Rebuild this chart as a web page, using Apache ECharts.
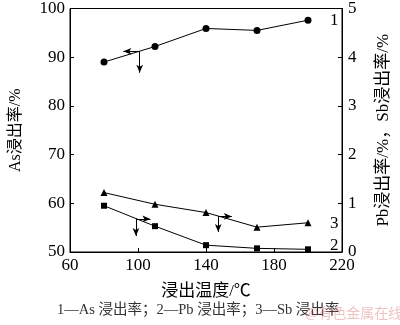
<!DOCTYPE html>
<html>
<head>
<meta charset="utf-8">
<script src="https://cdn.jsdelivr.net/npm/echarts@6/dist/echarts.min.js"></script>
<style>
  html, body { margin: 0; padding: 0; background: #fff; }
  #chart { width: 400px; height: 325px; }
</style>
</head>
<body>
<div id="chart"></div>
<script>
// Leaching temperature (°C)
const temperatures = [80, 110, 140, 170, 200];
// Leaching rates (%)
const asRate = [89.0, 92.2, 95.9, 95.5, 97.6];
const pbRate = [0.95, 0.53, 0.14, 0.075, 0.055];
const sbRate = [1.22, 0.98, 0.81, 0.51, 0.60];
const seriesNames = ['1', '2', '3'];

// Annotation arrows: [corner, horizontal tip, vertical tip] in data units
const asArrow = [[101, 91.2], [91.4, 91.2], [101, 86.8]];
const pbArrow = [[98.8, 0.68], [107.3, 0.68], [98.8, 0.33]];
const sbArrow = [[147.2, 0.73], [155.2, 0.73], [147.2, 0.41]];

const serif = '"Liberation Serif", "Times New Roman", serif';
const cjk = '"Liberation Serif", "Noto Sans CJK SC", serif';

function pairs(x, y) { return x.map((v, i) => [v, y[i]]); }

function arrowLines(a) {
  return {
    silent: true,
    symbol: ['none', 'arrow'],
    symbolSize: [5, 8],
    label: { show: false },
    lineStyle: { color: '#000', width: 1, type: 'solid' },
    emphasis: { disabled: true },
    data: [
      [{ coord: a[0] }, { coord: a[1] }],
      [{ coord: a[0] }, { coord: a[2] }]
    ]
  };
}

function lineSeries(name, data, axis, symbol, size, arrow, labelOffset) {
  return {
    name: name,
    type: 'line',
    yAxisIndex: axis,
    data: pairs(temperatures, data),
    symbol: symbol,
    symbolSize: size,
    itemStyle: { color: '#000' },
    lineStyle: { color: '#000', width: 1 },
    endLabel: {
      show: true,
      formatter: name,
      color: '#000',
      fontFamily: serif,
      fontSize: 17,
      offset: labelOffset
    },
    markLine: arrowLines(arrow)
  };
}

const chart = echarts.init(document.getElementById('chart'), null, { renderer: 'canvas' });

chart.setOption({
  animation: false,
  backgroundColor: '#fff',
  grid: {
    left: 56, right: 43, top: 6, bottom: 73,
    show: true, borderColor: '#000', borderWidth: 1
  },
  xAxis: {
    type: 'value', min: 60, max: 220, interval: 40,
    name: '浸出温度/℃',
    nameLocation: 'middle', nameGap: 31,
    nameTextStyle: { fontFamily: cjk, fontSize: 17, color: '#000' },
    axisLine: { lineStyle: { color: '#000', width: 1 } },
    axisTick: { inside: true, length: 4, lineStyle: { color: '#000' } },
    axisLabel: { fontFamily: serif, fontSize: 17, color: '#000', margin: 5 },
    splitLine: { show: false }
  },
  yAxis: [
    {
      type: 'value', min: 50, max: 100, interval: 10,
      name: 'As浸出率/%',
      nameLocation: 'middle', nameGap: 46, nameRotate: 90,
      nameTextStyle: { fontFamily: cjk, fontSize: 16, color: '#000' },
      axisLine: { show: true, lineStyle: { color: '#000', width: 1 } },
      axisTick: { inside: true, length: 4, lineStyle: { color: '#000' } },
      axisLabel: { fontFamily: serif, fontSize: 17, color: '#000', margin: 5 },
      splitLine: { show: false }
    },
    {
      type: 'value', min: 0, max: 5, interval: 1,
      position: 'right',
      name: 'Pb浸出率/%，Sb浸出率/%',
      nameLocation: 'middle', nameGap: 33, nameRotate: 90,
      nameTextStyle: { fontFamily: cjk, fontSize: 17, color: '#000' },
      axisLine: { show: true, lineStyle: { color: '#000', width: 1 } },
      axisTick: { inside: true, length: 4, lineStyle: { color: '#000' } },
      axisLabel: { fontFamily: serif, fontSize: 17, color: '#000', margin: 6 },
      splitLine: { show: false }
    }
  ],
  series: [
    lineSeries(seriesNames[0], asRate, 0, 'circle', 7, asArrow, [14, 0]),
    lineSeries(seriesNames[1], pbRate, 1, 'rect', 6, pbArrow, [14, -4]),
    lineSeries(seriesNames[2], sbRate, 1, 'triangle', 7, sbArrow, [14, 1])
  ],
  graphic: [
    {
      type: 'text', left: 57, top: 303,
      style: {
        text: '1—As 浸出率；2—Pb 浸出率；3—Sb 浸出率',
        font: '14.5px "Liberation Serif", "Noto Sans CJK SC", serif',
        fill: '#333'
      }
    },
    {
      type: 'text', left: 305, top: 306,
      style: {
        text: '@有色金属在线',
        font: '14px "Noto Sans CJK SC", sans-serif',
        fill: 'rgba(220,120,120,0.45)'
      }
    }
  ]
});
</script>
</body>
</html>
